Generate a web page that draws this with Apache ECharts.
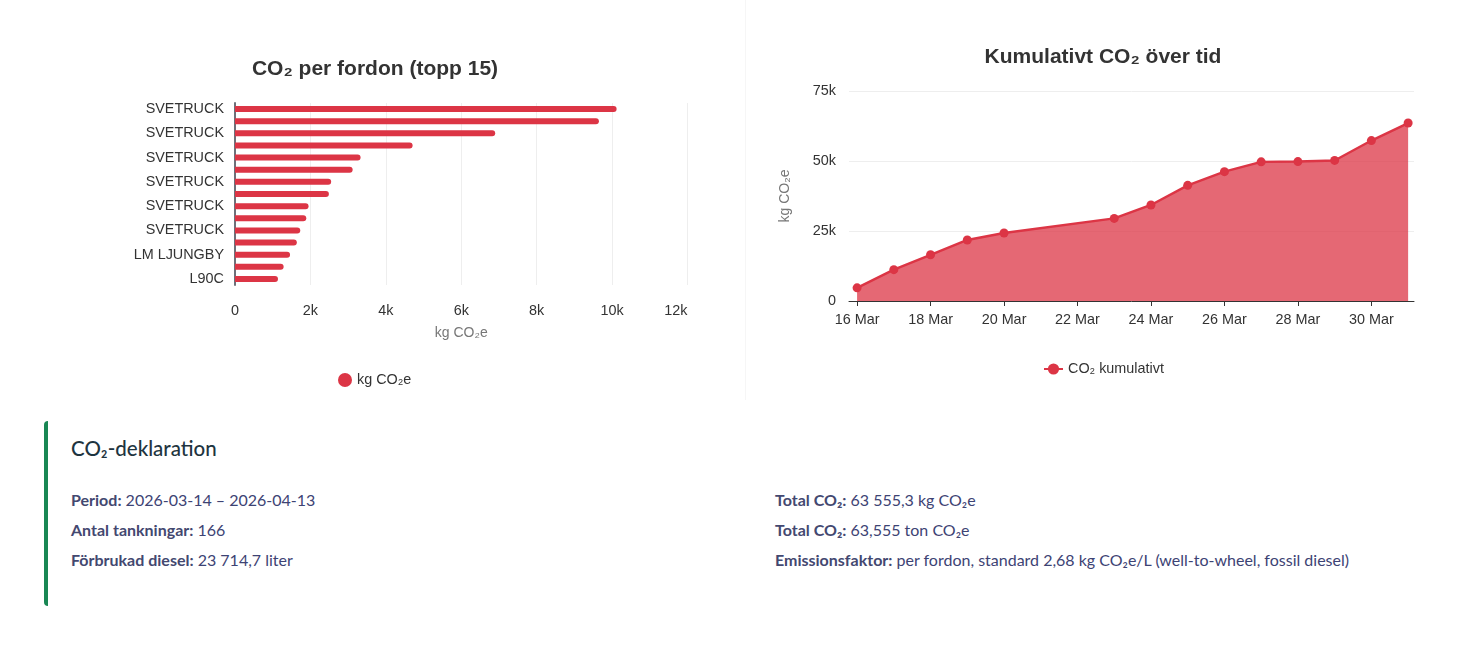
<!DOCTYPE html>
<html>
<head>
<meta charset="utf-8">
<script src="https://cdn.jsdelivr.net/npm/echarts@6/dist/echarts.min.js"></script>
<style>
html, body { margin: 0; padding: 0; background: #fff; }
body { width: 1473px; height: 663px; position: relative; overflow: hidden; }
#chartFordon { position: absolute; left: 0; top: 0; width: 745px; height: 400px; }
#chartKumulativ { position: absolute; left: 745px; top: 0; width: 728px; height: 400px; border-left: 1px solid #f6f6f6; box-sizing: border-box; }
#dekl { position: absolute; left: 44px; top: 421px; width: 1413px; height: 185px; border-left: 4px solid #198754; border-radius: 4px 0 0 4px; box-sizing: border-box; }
#dekl h5 { position: absolute; left: 23px; top: 13px; margin: 0; font: 500 20.5px/28px Lato, sans-serif; color: #1e3440; white-space: nowrap; }
#dekl p { position: absolute; margin: 0; font: 400 16px/22px Lato, sans-serif; color: #3d4374; white-space: nowrap; }
#dekl b { font-weight: 700; color: #434870; }
</style>
</head>
<body>
<div id="chartFordon"></div>
<div id="chartKumulativ"></div>
<div id="dekl">
  <h5>CO₂-deklaration</h5>
  <p style="left:23px;top:68px"><b>Period:</b> 2026-03-14 – 2026-04-13</p>
  <p style="left:23px;top:98px"><b>Antal tankningar:</b> 166</p>
  <p style="left:23px;top:128px"><b>Förbrukad diesel:</b> 23 714,7 liter</p>
  <p style="left:727px;top:68px"><b>Total CO₂:</b> 63 555,3 kg CO₂e</p>
  <p style="left:727px;top:98px"><b>Total CO₂:</b> 63,555 ton CO₂e</p>
  <p style="left:727px;top:128px"><b>Emissionsfaktor:</b> per fordon, standard 2,68 kg CO₂e/L (well-to-wheel, fossil diesel)</p>
</div>
<script>
var fordonNamn = ['SVETRUCK', 'SVETRUCK', 'SVETRUCK', 'SVETRUCK', 'SVETRUCK', 'SVETRUCK', 'SVETRUCK', 'SVETRUCK',
	'SVETRUCK', 'SVETRUCK', 'SVETRUCK', 'SVETRUCK', 'LM LJUNGBY', 'LM LJUNGBY', 'L90C'];
var fordonCo2 = [10120, 9650, 6900, 4710, 3330, 3120, 2550, 2490, 1950, 1890, 1730, 1640, 1460, 1290, 1140];

var dagar = [16, 17, 18, 19, 20, 23, 24, 25, 26, 27, 28, 29, 30, 31];
var kumulativ = [4700, 11200, 16500, 21800, 24300, 29500, 34300, 41300, 46200, 49700, 49800, 50200, 57300, 63555];
var dagTicks = [16, 18, 20, 22, 24, 26, 28, 30];

var FONT = '"Liberation Sans", Arial, sans-serif';
var ROD = '#dc3545';

function kFormat(v) {
	return v === 0 ? '0' : (v / 1000) + 'k';
}

var chart1 = echarts.init(document.getElementById('chartFordon'));
chart1.setOption({
	animation: false,
	textStyle: { fontFamily: FONT },
	title: {
		text: 'CO₂ per fordon (topp 15)',
		left: 370,
		top: 54,
		textAlign: 'center',
		textStyle: { fontSize: 21, fontWeight: 'bold', color: '#333', fontFamily: FONT }
	},
	legend: {
		data: ['kg CO₂e'],
		icon: 'circle',
		left: 333,
		top: 368,
		itemWidth: 14,
		itemHeight: 14,
		itemGap: 8,
		textStyle: { fontSize: 14.4, color: '#333', fontFamily: FONT }
	},
	grid: { left: 235, right: 57.5, top: 103, height: 182 },
	xAxis: {
		type: 'value',
		min: 0,
		max: 12000,
		interval: 2000,
		name: 'kg CO₂e',
		nameLocation: 'middle',
		nameGap: 41,
		nameTextStyle: { fontSize: 14, color: '#777', fontFamily: FONT },
		axisLine: { show: false },
		axisTick: { show: false },
		axisLabel: {
			formatter: kFormat,
			fontSize: 14.4,
			color: '#333',
			margin: 19,
			alignMaxLabel: 'right'
		},
		splitLine: { show: true, lineStyle: { color: '#eeeeee' } }
	},
	yAxis: {
		type: 'category',
		inverse: true,
		data: fordonNamn,
		axisLine: { show: true, lineStyle: { color: '#6e7079', width: 2 } },
		axisTick: { show: false },
		axisLabel: { interval: 1, fontSize: 14.4, color: '#333', margin: 11 }
	},
	series: [{
		name: 'kg CO₂e',
		type: 'bar',
		data: fordonCo2,
		barWidth: 6,
		itemStyle: { color: ROD, borderRadius: [0, 3, 3, 0] }
	}]
});

var chart2 = echarts.init(document.getElementById('chartKumulativ'));
chart2.setOption({
	animation: false,
	textStyle: { fontFamily: FONT },
	title: {
		text: 'Kumulativt CO₂ över tid',
		left: 352,
		top: 42,
		textAlign: 'center',
		textStyle: { fontSize: 21, fontWeight: 'bold', color: '#333', fontFamily: FONT }
	},
	legend: {
		data: ['CO₂ kumulativt'],
		left: 292,
		top: 357,
		itemWidth: 19,
		itemHeight: 14,
		itemGap: 5,
		textStyle: { fontSize: 14.4, color: '#333', fontFamily: FONT }
	},
	grid: { left: 103, right: 59, top: 91, height: 210 },
	xAxis: {
		type: 'value',
		min: 15.78,
		max: 31.16,
		axisLine: { show: true, onZero: true, lineStyle: { color: '#333' } },
		axisTick: { show: true, length: 5, customValues: dagTicks, lineStyle: { color: '#333' } },
		axisLabel: {
			customValues: dagTicks,
			formatter: function (v) { return v + ' Mar'; },
			fontSize: 14.4,
			color: '#333',
			margin: 12
		},
		splitLine: { show: false }
	},
	yAxis: {
		type: 'value',
		min: 0,
		max: 75000,
		interval: 25000,
		name: 'kg CO₂e',
		nameLocation: 'middle',
		nameGap: 57,
		nameTextStyle: { fontSize: 14, color: '#777', fontFamily: FONT },
		axisLine: { show: false },
		axisTick: { show: false },
		axisLabel: { formatter: kFormat, fontSize: 14.4, color: '#333', margin: 13 },
		splitLine: { show: true, lineStyle: { color: '#eeeeee' } }
	},
	series: [{
		name: 'CO₂ kumulativt',
		type: 'line',
		data: dagar.map(function (d, i) { return [d, kumulativ[i]]; }),
		symbol: 'circle',
		symbolSize: 9,
		showAllSymbol: true,
		lineStyle: { color: ROD, width: 2.4 },
		itemStyle: { color: ROD },
		areaStyle: { color: ROD, opacity: 0.75 }
	}]
});
</script>
</body>
</html>
